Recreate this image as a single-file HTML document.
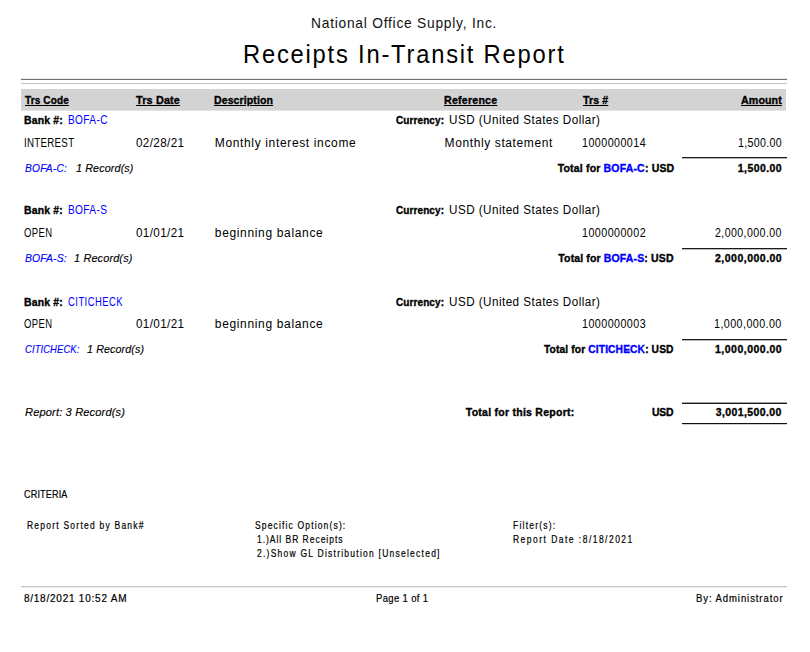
<!DOCTYPE html>
<html><head><meta charset="utf-8"><style>
html,body{margin:0;padding:0;background:#fff;}
body{width:810px;height:652px;position:relative;overflow:hidden;font-family:"Liberation Sans", sans-serif;color:#000;}
.t{position:absolute;white-space:nowrap;transform-origin:0 0;}
.r{position:absolute;}
</style></head><body>
<div class=r style='left:21px;top:78px;width:766px;height:1px;background:#ececec'></div>
<div class=r style='left:21px;top:79px;width:766px;height:1px;background:#707070'></div>
<div class=r style='left:21px;top:83px;width:766px;height:1px;background:#c0c0c0'></div>
<div class=r style='left:21px;top:89px;width:765px;height:21px;background:#d3d3d3'></div>
<div class=r style='left:21px;top:110px;width:765px;height:1px;background:#e4e4e4'></div>
<div class=r style='left:682px;top:157px;width:105px;height:1px;background:#1a1a1a'></div>
<div class=r style='left:682px;top:158px;width:105px;height:1px;background:#b8b8b8'></div>
<div class=r style='left:682px;top:248px;width:105px;height:1px;background:#1a1a1a'></div>
<div class=r style='left:682px;top:249px;width:105px;height:1px;background:#b8b8b8'></div>
<div class=r style='left:682px;top:339px;width:105px;height:1px;background:#1a1a1a'></div>
<div class=r style='left:682px;top:340px;width:105px;height:1px;background:#b8b8b8'></div>
<div class=r style='left:682px;top:402px;width:105px;height:1px;background:#a0a0a0'></div>
<div class=r style='left:682px;top:403px;width:105px;height:1px;background:#1a1a1a'></div>
<div class=r style='left:682px;top:423px;width:105px;height:1px;background:#111'></div>
<div class=r style='left:682px;top:424px;width:105px;height:1px;background:#d0d0d0'></div>
<div class=r style='left:21px;top:586px;width:766px;height:1px;background:#c4c4c4'></div>
<div class=r style='left:21px;top:587px;width:766px;height:1px;background:#ececec'></div>
<div class=t style='left:311.0px;top:16.0px;font-size:14.5px;line-height:14.5px;color:#111;letter-spacing:0.799px;transform:scaleX(0.9500)'>National Office Supply, Inc.</div>
<div class=t style='left:243.0px;top:41.5px;font-size:25px;line-height:25px;color:#000;letter-spacing:1.874px;transform:scaleX(0.9500)'>Receipts In-Transit Report</div>
<div class=t style='left:24.5px;top:95.0px;font-size:11px;line-height:11px;font-weight:bold;text-decoration:underline;-webkit-text-stroke:0.35px;letter-spacing:0.119px;transform:scaleX(0.9136)'>Trs Code</div>
<div class=t style='left:135.7px;top:95.0px;font-size:11px;line-height:11px;font-weight:bold;text-decoration:underline;-webkit-text-stroke:0.35px;letter-spacing:0.150px;transform:scaleX(0.9878)'>Trs Date</div>
<div class=t style='left:214.0px;top:95.0px;font-size:11px;line-height:11px;font-weight:bold;text-decoration:underline;-webkit-text-stroke:0.35px;letter-spacing:0.108px;transform:scaleX(0.9568)'>Description</div>
<div class=t style='left:443.6px;top:95.0px;font-size:11px;line-height:11px;font-weight:bold;text-decoration:underline;-webkit-text-stroke:0.35px;letter-spacing:0.228px;transform:scaleX(0.9656)'>Reference</div>
<div class=t style='left:583.2px;top:95.0px;font-size:11px;line-height:11px;font-weight:bold;text-decoration:underline;-webkit-text-stroke:0.35px;letter-spacing:0.150px;transform:scaleX(0.9586)'>Trs #</div>
<div class=t style='left:741.0px;top:95.0px;font-size:11px;line-height:11px;font-weight:bold;text-decoration:underline;-webkit-text-stroke:0.35px;letter-spacing:0.109px;transform:scaleX(0.9684)'>Amount</div>
<div class=t style='left:24.0px;top:115.0px;font-size:10.5px;line-height:10.5px;font-weight:bold;-webkit-text-stroke:0.35px;letter-spacing:0.184px;transform:scaleX(0.9923)'>Bank #:</div>
<div class=t style='left:67.7px;top:114.0px;font-size:12px;line-height:12px;color:#0000ff;letter-spacing:0.405px;transform:scaleX(0.8452)'>BOFA-C</div>
<div class=t style='left:396.2px;top:115.0px;font-size:10.5px;line-height:10.5px;font-weight:bold;-webkit-text-stroke:0.35px;letter-spacing:0.097px;transform:scaleX(0.9522)'>Currency:</div>
<div class=t style='left:448.8px;top:114.0px;font-size:12px;line-height:12px;letter-spacing:0.475px;transform:scaleX(0.9723)'>USD (United States Dollar)</div>
<div class=t style='left:24.4px;top:136.6px;font-size:12px;line-height:12px;letter-spacing:0.359px;transform:scaleX(0.8096)'>INTEREST</div>
<div class=t style='left:135.9px;top:136.6px;font-size:12px;line-height:12px;letter-spacing:0.382px;transform:scaleX(0.9717)'>02/28/21</div>
<div class=t style='left:214.8px;top:136.6px;font-size:12px;line-height:12px;letter-spacing:0.645px'>Monthly interest income</div>
<div class=t style='left:444.6px;top:136.6px;font-size:12px;line-height:12px;letter-spacing:0.606px'>Monthly statement</div>
<div class=t style='left:581.6px;top:136.6px;font-size:12px;line-height:12px;letter-spacing:0.500px;transform:scaleX(0.8936)'>1000000014</div>
<div class=t style='left:737.8px;top:136.6px;font-size:12px;line-height:12px;letter-spacing:0.339px;transform:scaleX(0.8889)'>1,500.00</div>
<div class=t style='left:25.0px;top:163.0px;font-size:11.5px;line-height:11.5px;font-style:italic;color:#0000ff;-webkit-text-stroke:0.15px;letter-spacing:0.225px;transform:scaleX(0.8891)'>BOFA-C:</div>
<div class=t style='left:75.7px;top:163.0px;font-size:11.5px;line-height:11.5px;font-style:italic;-webkit-text-stroke:0.15px;letter-spacing:0.107px;transform:scaleX(0.9398)'>1 Record(s)</div>
<div class=t style='left:557.7px;top:163.0px;font-size:10.5px;line-height:10.5px;font-weight:bold;-webkit-text-stroke:0.35px;letter-spacing:0.175px'>Total for <span style='color:#0000ff'>BOFA-C</span>: USD</div>
<div class=t style='left:737.8px;top:163.0px;font-size:10.5px;line-height:10.5px;font-weight:bold;-webkit-text-stroke:0.35px;letter-spacing:0.429px'>1,500.00</div>
<div class=t style='left:24.0px;top:205.0px;font-size:10.5px;line-height:10.5px;font-weight:bold;-webkit-text-stroke:0.35px;letter-spacing:0.184px;transform:scaleX(0.9923)'>Bank #:</div>
<div class=t style='left:67.7px;top:204.0px;font-size:12px;line-height:12px;color:#0000ff;letter-spacing:0.405px;transform:scaleX(0.8452)'>BOFA-S</div>
<div class=t style='left:396.2px;top:205.0px;font-size:10.5px;line-height:10.5px;font-weight:bold;-webkit-text-stroke:0.35px;letter-spacing:0.097px;transform:scaleX(0.9522)'>Currency:</div>
<div class=t style='left:448.8px;top:204.0px;font-size:12px;line-height:12px;letter-spacing:0.475px;transform:scaleX(0.9723)'>USD (United States Dollar)</div>
<div class=t style='left:24.4px;top:226.6px;font-size:12px;line-height:12px;letter-spacing:0.500px;transform:scaleX(0.7887)'>OPEN</div>
<div class=t style='left:135.9px;top:226.6px;font-size:12px;line-height:12px;letter-spacing:0.382px;transform:scaleX(0.9717)'>01/01/21</div>
<div class=t style='left:214.8px;top:226.6px;font-size:12px;line-height:12px;letter-spacing:0.656px'>beginning balance</div>
<div class=t style='left:581.6px;top:226.6px;font-size:12px;line-height:12px;letter-spacing:0.500px;transform:scaleX(0.8936)'>1000000002</div>
<div class=t style='left:715.0px;top:226.6px;font-size:12px;line-height:12px;letter-spacing:0.459px;transform:scaleX(0.8848)'>2,000,000.00</div>
<div class=t style='left:25.0px;top:253.0px;font-size:11.5px;line-height:11.5px;font-style:italic;color:#0000ff;-webkit-text-stroke:0.15px;letter-spacing:0.150px;transform:scaleX(0.9041)'>BOFA-S:</div>
<div class=t style='left:73.8px;top:253.0px;font-size:11.5px;line-height:11.5px;font-style:italic;-webkit-text-stroke:0.15px;letter-spacing:0.171px;transform:scaleX(0.9447)'>1 Record(s)</div>
<div class=t style='left:558.3px;top:253.0px;font-size:10.5px;line-height:10.5px;font-weight:bold;-webkit-text-stroke:0.35px;letter-spacing:0.140px'>Total for <span style='color:#0000ff'>BOFA-S</span>: USD</div>
<div class=t style='left:715.0px;top:253.0px;font-size:10.5px;line-height:10.5px;font-weight:bold;-webkit-text-stroke:0.35px;letter-spacing:0.491px'>2,000,000.00</div>
<div class=t style='left:24.0px;top:297.0px;font-size:10.5px;line-height:10.5px;font-weight:bold;-webkit-text-stroke:0.35px;letter-spacing:0.184px;transform:scaleX(0.9923)'>Bank #:</div>
<div class=t style='left:67.7px;top:296.0px;font-size:12px;line-height:12px;color:#0000ff;letter-spacing:0.595px;transform:scaleX(0.7870)'>CITICHECK</div>
<div class=t style='left:396.2px;top:297.0px;font-size:10.5px;line-height:10.5px;font-weight:bold;-webkit-text-stroke:0.35px;letter-spacing:0.097px;transform:scaleX(0.9522)'>Currency:</div>
<div class=t style='left:448.8px;top:296.0px;font-size:12px;line-height:12px;letter-spacing:0.475px;transform:scaleX(0.9723)'>USD (United States Dollar)</div>
<div class=t style='left:24.4px;top:317.6px;font-size:12px;line-height:12px;letter-spacing:0.500px;transform:scaleX(0.7887)'>OPEN</div>
<div class=t style='left:135.9px;top:317.6px;font-size:12px;line-height:12px;letter-spacing:0.382px;transform:scaleX(0.9717)'>01/01/21</div>
<div class=t style='left:214.8px;top:317.6px;font-size:12px;line-height:12px;letter-spacing:0.656px'>beginning balance</div>
<div class=t style='left:581.6px;top:317.6px;font-size:12px;line-height:12px;letter-spacing:0.500px;transform:scaleX(0.8936)'>1000000003</div>
<div class=t style='left:714.0px;top:317.6px;font-size:12px;line-height:12px;letter-spacing:0.459px;transform:scaleX(0.8966)'>1,000,000.00</div>
<div class=t style='left:25.0px;top:344.0px;font-size:11.5px;line-height:11.5px;font-style:italic;color:#0000ff;-webkit-text-stroke:0.15px;letter-spacing:0.123px;transform:scaleX(0.8199)'>CITICHECK:</div>
<div class=t style='left:87.1px;top:344.0px;font-size:11.5px;line-height:11.5px;font-style:italic;-webkit-text-stroke:0.15px;letter-spacing:0.107px;transform:scaleX(0.9317)'>1 Record(s)</div>
<div class=t style='left:544.0px;top:344.0px;font-size:10.5px;line-height:10.5px;font-weight:bold;-webkit-text-stroke:0.35px;letter-spacing:0.123px;transform:scaleX(0.9756)'>Total for <span style='color:#0000ff'>CITICHECK</span>: USD</div>
<div class=t style='left:715.0px;top:344.0px;font-size:10.5px;line-height:10.5px;font-weight:bold;-webkit-text-stroke:0.35px;letter-spacing:0.491px'>1,000,000.00</div>
<div class=t style='left:24.5px;top:407.3px;font-size:11.5px;line-height:11.5px;font-style:italic;-webkit-text-stroke:0.15px;letter-spacing:0.150px;transform:scaleX(0.9643)'>Report: 3 Record(s)</div>
<div class=t style='left:465.8px;top:407.3px;font-size:10.5px;line-height:10.5px;font-weight:bold;-webkit-text-stroke:0.35px;letter-spacing:0.257px'>Total for this Report:</div>
<div class=t style='left:651.9px;top:407.3px;font-size:10.5px;line-height:10.5px;font-weight:bold;-webkit-text-stroke:0.35px;letter-spacing:-0.254px;transform:scaleX(0.9910)'>USD</div>
<div class=t style='left:715.7px;top:407.3px;font-size:10.5px;line-height:10.5px;font-weight:bold;-webkit-text-stroke:0.35px;letter-spacing:0.391px'>3,001,500.00</div>
<div class=t style='left:23.9px;top:490.2px;font-size:10px;line-height:10px;-webkit-text-stroke:0.2px;letter-spacing:0.150px;transform:scaleX(0.9087)'>CRITERIA</div>
<div class=t style='left:27.2px;top:521.4px;font-size:10px;line-height:10px;-webkit-text-stroke:0.2px;letter-spacing:1.445px;transform:scaleX(0.8500)'>Report Sorted by Bank#</div>
<div class=t style='left:255.4px;top:521.4px;font-size:10px;line-height:10px;-webkit-text-stroke:0.2px;letter-spacing:1.359px;transform:scaleX(0.8500)'>Specific Option(s):</div>
<div class=t style='left:256.7px;top:535.0px;font-size:10px;line-height:10px;-webkit-text-stroke:0.2px;letter-spacing:1.142px;transform:scaleX(0.8500)'>1.)All BR Receipts</div>
<div class=t style='left:256.7px;top:548.7px;font-size:10px;line-height:10px;-webkit-text-stroke:0.2px;letter-spacing:1.459px;transform:scaleX(0.8500)'>2.)Show GL Distribution [Unselected]</div>
<div class=t style='left:512.6px;top:521.4px;font-size:10px;line-height:10px;-webkit-text-stroke:0.2px;letter-spacing:1.438px;transform:scaleX(0.8500)'>Filter(s):</div>
<div class=t style='left:512.6px;top:535.0px;font-size:10px;line-height:10px;-webkit-text-stroke:0.2px;letter-spacing:1.731px;transform:scaleX(0.8500)'>Report Date :8/18/2021</div>
<div class=t style='left:23.9px;top:594.3px;font-size:10px;line-height:10px;-webkit-text-stroke:0.2px;letter-spacing:0.771px'>8/18/2021 10:52 AM</div>
<div class=t style='left:376.3px;top:594.3px;font-size:10px;line-height:10px;-webkit-text-stroke:0.2px;letter-spacing:0.358px;transform:scaleX(0.9500)'>Page 1 of 1</div>
<div class=t style='left:695.9px;top:594.3px;font-size:10px;line-height:10px;-webkit-text-stroke:0.2px;letter-spacing:0.974px;transform:scaleX(0.9500)'>By: Administrator</div>
</body></html>
